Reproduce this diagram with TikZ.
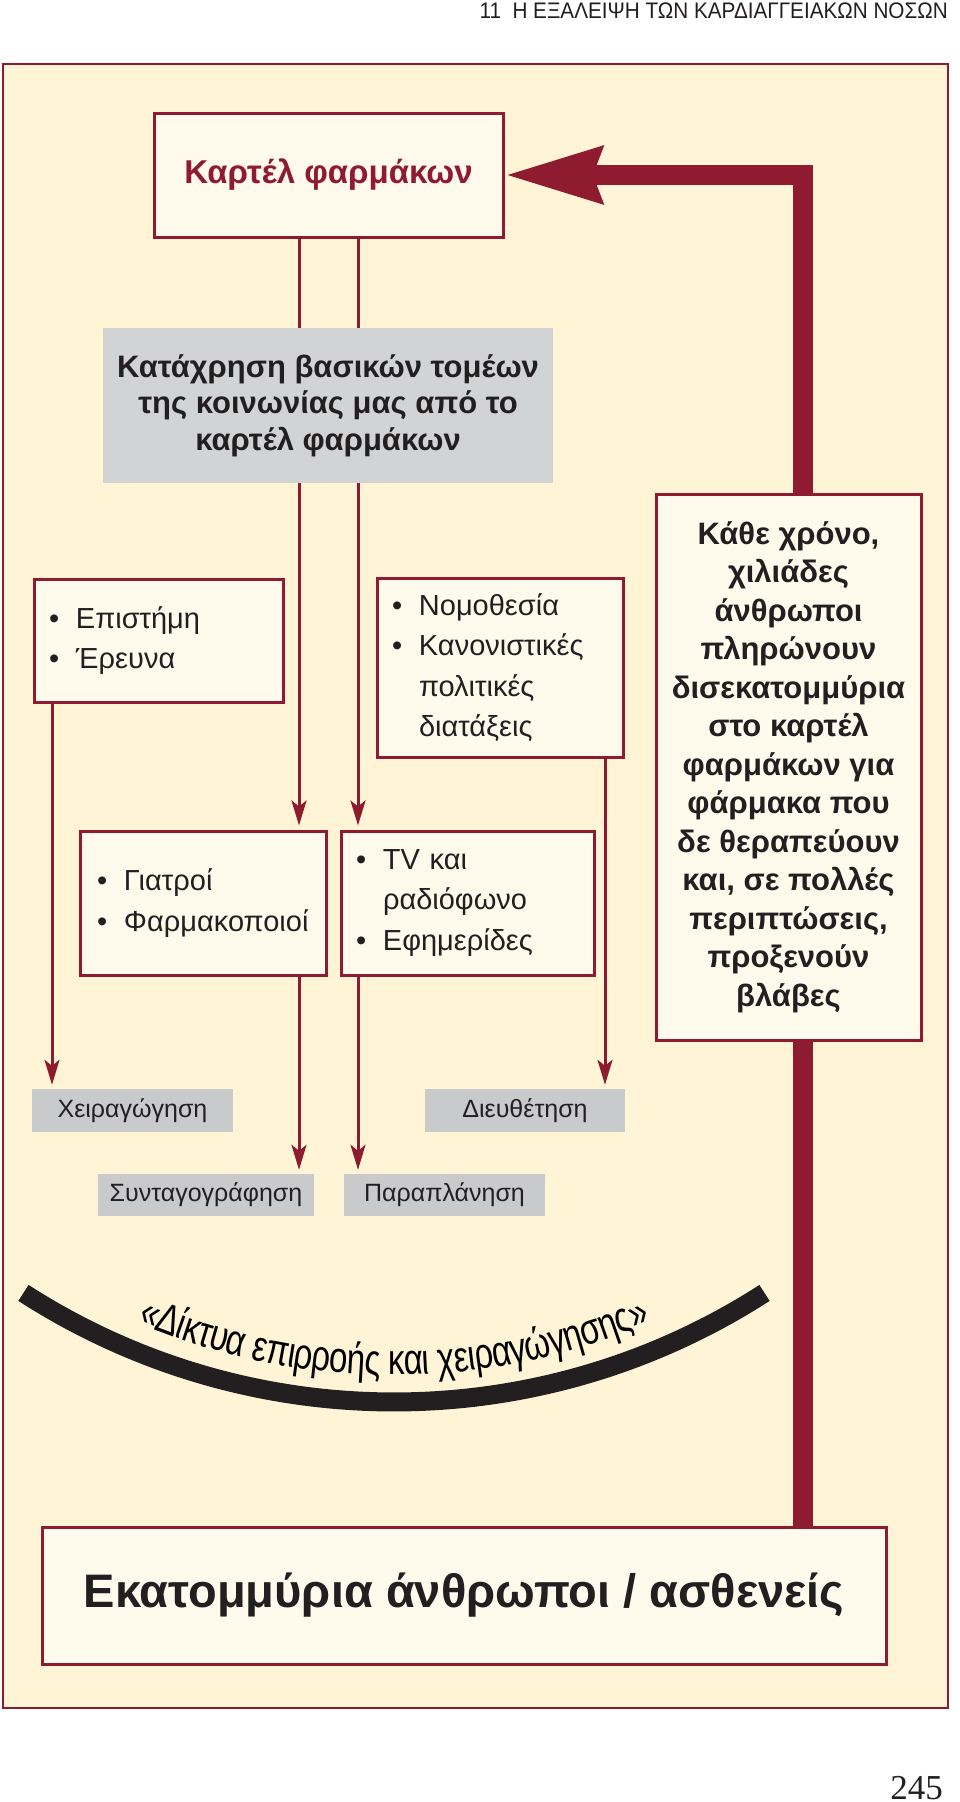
\documentclass[tikz,border=0pt]{standalone}
\usepackage{fontspec}
\setmainfont{Liberation Sans}
\newfontfamily\narrowfont{Liberation Sans}[FakeStretch=0.77]
\newfontfamily\timesfont{Liberation Serif}
\usetikzlibrary{arrows.meta,decorations.text,calc}
\pgfdeclarelayer{frame}
\pgfdeclarelayer{behind}
\pgfsetlayers{frame,behind,main}
\definecolor{cream}{RGB}{255,244,214}
\definecolor{paleCream}{RGB}{255,250,236}
\definecolor{wine}{RGB}{142,27,48}
\definecolor{ink}{RGB}{35,31,32}
\definecolor{boxGray}{RGB}{209,211,212}
\definecolor{labelGray}{RGB}{201,202,204}
\newcommand{\bul}{\makebox[27pt][l]{\textbullet}}
\newcommand{\nob}{\hspace*{27pt}}

\begin{document}
\begin{tikzpicture}[x=1pt,y=-1pt,
  redbox/.style={draw=wine,line width=3pt,fill=paleCream,inner sep=0pt,text=ink},
  listbox/.style={redbox,align=left,inner xsep=15pt,font=\fontsize{29}{40.5}\selectfont},
  graybox/.style={fill=boxGray,inner sep=0pt,text=ink},
  tag/.style={fill=labelGray,inner sep=0pt,text=ink,font=\fontsize{25}{28}\selectfont},
  link/.style={wine,line width=3pt},
  feed/.style={link,-{Stealth[length=25pt,width=15pt,inset=6pt]},shorten >=4pt}]
\useasboundingbox (0,0) rectangle (960,1802);

% page header and number
\node[anchor=base east,inner sep=0pt,text=ink] (header) at (948,18)
  {\fontspec{Liberation Sans}[FakeStretch=0.92]\fontsize{22.5}{26}\selectfont 11\ \ Η ΕΞΑΛΕΙΨΗ ΤΩΝ ΚΑΡΔΙΑΓΓΕΙΑΚΩΝ ΝΟΣΩΝ};
\node[anchor=base east,inner sep=0pt,text=ink] (pagenum) at (943,1799)
  {\timesfont\fontsize{35}{40}\selectfont 245};

% boxes
\node[redbox,minimum width=349,minimum height=124,text=wine] (cartel) at (328.5,175)
  {\bfseries\fontsize{33}{40}\selectfont Καρτέλ φαρμάκων};
\node[graybox,minimum width=450,minimum height=155,align=center,
  font=\bfseries\fontsize{31}{36.5}\selectfont] (abuse) at (328,405.5)
  {Κατάχρηση βασικών τομέων\\της κοινωνίας μας από το\\καρτέλ φαρμάκων};
\node[listbox,minimum width=249,minimum height=123,text width=219] (science) at (158.5,640.5)
  {\bul Επιστήμη\\ \bul Έρευνα};
\node[listbox,minimum width=246,minimum height=179,text width=216] (law) at (500,667.5)
  {\bul Νομοθεσία\\ \bul Κανονιστικές\\ \nob πολιτικές\\ \nob διατάξεις};
\node[listbox,inner xsep=17pt,minimum width=246,minimum height=144,text width=212] (doctors) at (203,903)
  {\bul Γιατροί\\ \bul Φαρμακοποιοί};
\node[listbox,minimum width=253,minimum height=144,text width=223] (media) at (467.5,903)
  {\bul TV και\\ \nob ραδιόφωνο\\ \bul Εφημερίδες};
\node[redbox,minimum width=265,minimum height=546,align=center,
  font=\bfseries\fontsize{31}{38.5}\selectfont] (yearly) at (788.5,767)
  {Κάθε χρόνο,\\χιλιάδες\\άνθρωποι\\πληρώνουν\\δισεκατομμύρια\\στο καρτέλ\\φαρμάκων για\\φάρμακα που\\δε θεραπεύουν\\και, σε πολλές\\περιπτώσεις,\\προξενούν\\βλάβες};
\node[tag,minimum width=201,minimum height=43] (manip) at (132.5,1110.5) {Χειραγώγηση};
\node[tag,minimum width=200,minimum height=43] (settle) at (525,1110.5) {Διευθέτηση};
\node[tag,minimum width=216,minimum height=42] (prescr) at (206,1195) {Συνταγογράφηση};
\node[tag,minimum width=201,minimum height=42] (mislead) at (444.5,1195) {Παραπλάνηση};
\node[redbox,minimum width=844,minimum height=137] (patients) at (464,1595.5)
  {\bfseries\fontsize{47}{56}\selectfont Εκατομμύρια άνθρωποι / ασθενείς};

% thin connectors
\coordinate (colA) at (299,0);
\coordinate (colB) at (358,0);
\coordinate (colL) at (52,0);
\coordinate (colR) at (605,0);
\draw[link] (cartel.south -| colA) -- (abuse.north -| colA);
\draw[link] (cartel.south -| colB) -- (abuse.north -| colB);
\draw[feed] (abuse.south -| colA) -- (doctors.north -| colA);
\draw[feed] (abuse.south -| colB) -- (media.north -| colB);
\draw[feed] (doctors.south -| colA) -- (prescr.north -| colA);
\draw[feed] (media.south -| colB) -- (mislead.north -| colB);
\draw[feed] (science.south -| colL) -- (manip.north -| colL);
\draw[feed] (law.south -| colR) -- (settle.north -| colR);

% the big loop back to the cartel
\coordinate (loop) at (803,175);
\begin{pgfonlayer}{behind}
\draw[wine,line width=20pt,-{Stealth[length=96pt,width=54pt,inset=8pt]}]
  (patients.north -| loop) |- (cartel.east);
\end{pgfonlayer}

% arc with its caption
\coordinate (bend) at (394,718);
\draw[ink,line width=19pt] ($(bend)+(122.8:684)$) arc[start angle=122.8,end angle=57.2,radius=684];
\path[decorate,decoration={text along path,text align=center,raise=27pt,
  text={|\narrowfont\fontsize{43}{43}\selectfont|«Δίκτυα επιρροής και χειραγώγησης»}}]
  ($(bend)+(122.8:684)$) arc[start angle=122.8,end angle=57.2,radius=684];

\begin{pgfonlayer}{frame}
\draw[wine,line width=2pt,fill=cream] (3,64) rectangle (948,1708);
\end{pgfonlayer}
\end{tikzpicture}
\end{document}
